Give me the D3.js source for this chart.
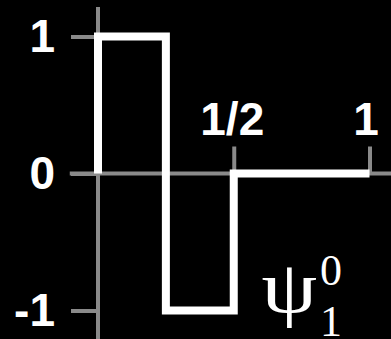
<!DOCTYPE html>
<html>
<head>
<meta charset="utf-8">
<script src="https://cdn.jsdelivr.net/npm/d3@7"></script>
<style>
  html, body { margin: 0; padding: 0; background: #000; }
  svg { display: block; }
</style>
</head>
<body>
<svg id="chart" width="391" height="339"></svg>
<script>
// Haar wavelet psi_1^0: +1 on [0, 1/4), -1 on [1/4, 1/2), 0 on [1/2, 1]
const knotT   = [0, 0, 0.25, 0.5, 1];
const knotVal = [0, 1, -1, 0, 0];

const xTicks = [0.5, 1];
const xTickLabels = ["1/2", "1"];
const yTicks = [1, 0, -1];
const yTickLabels = ["1", "0", "-1"];

const xExtent = [-0.104, 1.1];
const yExtent = [-1.25, 1.215];

const W = 391, H = 339;
const svg = d3.select("#chart");

svg.append("rect").attr("width", W).attr("height", H).attr("fill", "#000");

const x = d3.scaleLinear().domain([0, 1]).range([98, 369.5]);
const y = d3.scaleLinear().domain([-1, 1]).range([310.5, 36.5]);

const axisColor = "#8a8a8a";
const axisWidth = 4;

// axis lines
svg.append("line")
  .attr("x1", x(xExtent[0])).attr("x2", x(xExtent[1]))
  .attr("y1", y(0)).attr("y2", y(0))
  .attr("stroke", axisColor).attr("stroke-width", axisWidth);
svg.append("line")
  .attr("x1", x(0)).attr("x2", x(0))
  .attr("y1", y(yExtent[1])).attr("y2", y(yExtent[0]))
  .attr("stroke", axisColor).attr("stroke-width", axisWidth);

const labelFont = "'Liberation Sans', Arial, sans-serif";

// x axis: ticks point upward, labels above
const gx = svg.append("g")
  .attr("transform", `translate(0,${y(0)})`)
  .call(d3.axisTop(x)
    .tickValues(xTicks)
    .tickSize(27)
    .tickPadding(12)
    .tickFormat((d, i) => xTickLabels[i]));

// y axis: ticks point left, labels to the left
const gy = svg.append("g")
  .attr("transform", `translate(${x(0)},0)`)
  .call(d3.axisLeft(y)
    .tickValues(yTicks)
    .tickSize(27)
    .tickPadding(16)
    .tickFormat((d, i) => yTickLabels[i]));

[gx, gy].forEach(g => {
  g.select(".domain").remove();
  g.selectAll(".tick line")
    .attr("stroke", axisColor)
    .attr("stroke-width", axisWidth);
  g.selectAll(".tick text")
    .attr("fill", "#fff")
    .attr("font-family", labelFont)
    .attr("font-weight", "bold")
    .attr("font-size", 46);
});
gx.selectAll(".tick text")
  .attr("dx", d => d === 1 ? -4 : -2);

// the wavelet itself
const line = d3.line()
  .x(d => x(d[0]))
  .y(d => y(d[1]))
  .curve(d3.curveStepAfter);

svg.append("path")
  .datum(knotT.map((t, i) => [t, knotVal[i]]))
  .attr("d", line)
  .attr("fill", "none")
  .attr("stroke", "#fff")
  .attr("stroke-width", 8)
  .attr("stroke-linejoin", "miter")
  .attr("stroke-linecap", "butt");

// function name with indices
const serif = "'Liberation Serif', 'Times New Roman', serif";
const name = svg.append("g").attr("fill", "#fff").attr("font-family", serif);
name.append("text")
  .attr("transform", "translate(261.5,312) scale(1.2,1)")
  .attr("font-size", 74)
  .text("ψ");
name.append("text")
  .attr("x", 331).attr("y", 285)
  .attr("text-anchor", "middle")
  .attr("font-size", 44)
  .text("0");
name.append("text")
  .attr("x", 331).attr("y", 336)
  .attr("text-anchor", "middle")
  .attr("font-size", 44)
  .text("1");
</script>
</body>
</html>
